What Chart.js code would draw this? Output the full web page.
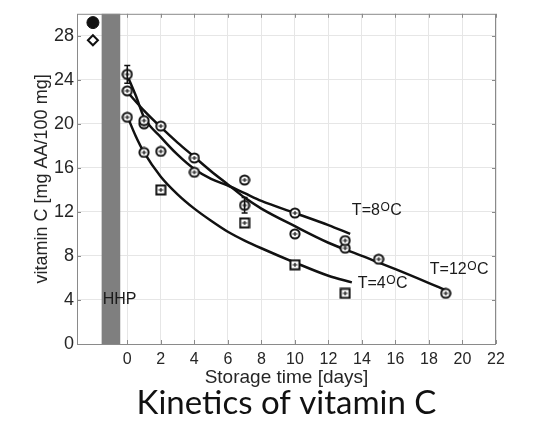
<!DOCTYPE html>
<html lang="en">
<head>
<meta charset="UTF-8">
<title>Kinetics of vitamin C</title>
<script src="https://cdn.jsdelivr.net/npm/chart.js"></script>
<style>
  html, body { margin: 0; padding: 0; background: #fff; }
  #wrap { width: 533px; height: 421px; }
</style>
</head>
<body>
<div id="wrap"><canvas id="vitChart"></canvas></div>
<script>
// measured vitamin C [mg AA/100 mg] vs storage time [days]
const days4 = [0, 1, 2, 7, 10, 13];
const vitC4 = [20.6, 17.4, 14.0, 11.0, 7.2, 4.6];
const days8 = [0, 1, 2, 4, 7, 10, 13];
const vitC8 = [24.5, 20.3, 17.5, 15.6, 14.9, 11.9, 9.4];
const err8 = [0.8, 0, 0, 0, 0, 0, 0];
const days12 = [0, 1, 2, 4, 7, 10, 13, 15, 19];
const vitC12 = [23.0, 20.0, 19.8, 16.9, 12.6, 10.0, 8.7, 7.7, 4.6];
const err12 = [0, 0, 0, 0, 0.7, 0, 0, 0, 0];

// fresh sample before HHP treatment
const daysRaw = [-2.05];
const vitCRaw = [29.2];
const daysRaw2 = [-2.05];
const vitCRaw2 = [27.6];

// fitted curves
const fitDays4 = [0, 0.5, 1, 2, 3, 4, 5, 6, 7, 8, 10, 12, 13.4];
const fit4 = [20.7, 18.9, 17.4, 15.2, 13.6, 12.3, 11.2, 10.2, 9.4, 8.7, 7.4, 6.2, 5.6];
const fitDays8 = [0, 0.5, 1, 2, 3, 4, 5, 6, 7, 8, 10, 12, 13.3];
const fit8 = [24.4, 22.6, 20.6, 18.8, 17.2, 15.9, 15.0, 14.4, 13.7, 13.0, 11.9, 10.8, 10.0];
const fitDays12 = [0, 1, 2, 3, 4, 5, 6, 7, 8, 10, 12, 14, 16, 19];
const fit12 = [22.9, 21.2, 19.7, 18.3, 17.0, 15.7, 14.5, 13.3, 12.3, 10.7, 9.2, 8.0, 6.8, 4.9];

const xTicks = [0, 2, 4, 6, 8, 10, 12, 14, 16, 18, 20, 22];
const yTicks = [0, 4, 8, 12, 16, 20, 24, 28];

const hhpFrom = -1.53;
const hhpTo = -0.42;

// curve labels and where they sit (data units)
const curveLabels = [
  { text: 'T=8', x: 13.4, y: 11.7 },
  { text: 'T=12', x: 18.05, y: 6.4 },
  { text: 'T=4', x: 13.75, y: 5.1 }
];

const pts = (xs, ys) => xs.map((x, i) => ({ x: x, y: ys[i] }));

function makeMarker(square) {
  const c = document.createElement('canvas');
  c.width = 12; c.height = 12;
  const g = c.getContext('2d');
  g.fillStyle = '#fff';
  g.strokeStyle = '#111';
  g.lineWidth = 2;
  g.beginPath();
  if (square) g.rect(1.5, 1.5, 9, 9);
  else g.arc(6, 6, 4.6, 0, Math.PI * 2);
  g.fill();
  g.stroke();
  g.lineWidth = 1.2;
  g.beginPath();
  g.moveTo(3.5, 6); g.lineTo(8.5, 6);
  g.moveTo(6, 4); g.lineTo(6, 8);
  g.stroke();
  return c;
}
const circleMark = makeMarker(false);
const squareMark = makeMarker(true);

const curve = (xs, ys) => ({
  data: pts(xs, ys),
  showLine: true,
  borderColor: '#111',
  borderWidth: 2.5,
  pointRadius: 0,
  cubicInterpolationMode: 'monotone',
  order: 2
});

const marks = (xs, ys, style, errs) => ({
  data: pts(xs, ys),
  pointStyle: style,
  pointRadius: 6,
  errors: errs,
  order: 1
});

const decor = {
  id: 'decor',
  beforeDatasetsDraw(chart) {
    const { ctx, chartArea: a, scales: { x } } = chart;
    ctx.save();
    ctx.fillStyle = '#7f7f7f';
    const x0 = x.getPixelForValue(hhpFrom), x1 = x.getPixelForValue(hhpTo);
    ctx.fillRect(x0, a.top, x1 - x0, a.bottom - a.top);
    ctx.restore();
  },
  afterDatasetsDraw(chart) {
    const { ctx, chartArea: a, scales: { x, y } } = chart;
    ctx.save();
    // frame and inward ticks
    ctx.strokeStyle = '#8a8a8a';
    ctx.lineWidth = 1;
    ctx.strokeRect(a.left + 0.5, a.top + 0.5, a.right - a.left - 1, a.bottom - a.top);
    ctx.beginPath();
    xTicks.forEach(v => {
      const px = Math.round(x.getPixelForValue(v)) + 0.5;
      ctx.moveTo(px, a.top); ctx.lineTo(px, a.top + 4);
      ctx.moveTo(px, a.bottom); ctx.lineTo(px, a.bottom - 4);
    });
    yTicks.forEach(v => {
      const py = Math.round(y.getPixelForValue(v)) + 0.5;
      ctx.moveTo(a.left, py); ctx.lineTo(a.left + 4, py);
      ctx.moveTo(a.right, py); ctx.lineTo(a.right - 4, py);
    });
    ctx.stroke();

    // error bars
    ctx.strokeStyle = '#111';
    ctx.lineWidth = 1.5;
    chart.data.datasets.forEach(ds => {
      if (!ds.errors) return;
      ds.data.forEach((p, i) => {
        const e = ds.errors[i];
        if (!e) return;
        const px = x.getPixelForValue(p.x);
        const top = y.getPixelForValue(p.y + e), bot = y.getPixelForValue(p.y - e);
        ctx.beginPath();
        ctx.moveTo(px, top); ctx.lineTo(px, bot);
        ctx.moveTo(px - 3, top); ctx.lineTo(px + 3, top);
        ctx.moveTo(px - 3, bot); ctx.lineTo(px + 3, bot);
        ctx.stroke();
      });
    });

    // texts
    ctx.fillStyle = '#1a1a1a';
    ctx.textBaseline = 'alphabetic';
    ctx.textAlign = 'left';
    ctx.font = '16px "Liberation Sans", Arial, sans-serif';
    ctx.fillText('HHP', x.getPixelForValue(-1.47), y.getPixelForValue(3.65));
    curveLabels.forEach(l => {
      let px = x.getPixelForValue(l.x);
      const py = y.getPixelForValue(l.y);
      ctx.font = '16px "Liberation Sans", Arial, sans-serif';
      ctx.fillText(l.text, px, py);
      px += ctx.measureText(l.text).width + 0.5;
      ctx.font = '12px "Liberation Sans", Arial, sans-serif';
      ctx.fillText('O', px, py - 4);
      px += ctx.measureText('O').width + 0.5;
      ctx.font = '16px "Liberation Sans", Arial, sans-serif';
      ctx.fillText('C', px, py);
    });
    ctx.restore();
  }
};

const ctx = document.getElementById('vitChart').getContext('2d');
const chart = new Chart(ctx, {
  type: 'scatter',
  data: {
    datasets: [
      curve(fitDays4, fit4),
      curve(fitDays8, fit8),
      curve(fitDays12, fit12),
      marks(days4, vitC4, [circleMark, circleMark, squareMark, squareMark, squareMark, squareMark], null),
      marks(days8, vitC8, circleMark, err8),
      marks(days12, vitC12, circleMark, err12),
      { data: pts(daysRaw, vitCRaw), pointStyle: 'circle', pointRadius: 6, backgroundColor: '#111', borderColor: '#111', order: 1 },
      { data: pts(daysRaw2, vitCRaw2), pointStyle: 'rectRot', pointRadius: 5, backgroundColor: '#fff', borderColor: '#111', borderWidth: 2, order: 1 }
    ]
  },
  options: {
    responsive: true,
    maintainAspectRatio: false,
    animation: false,
    layout: { padding: { top: 7, right: 37, bottom: 0, left: 0 } },
    plugins: {
      legend: { display: false },
      tooltip: { enabled: false },
      title: {
        display: true,
        position: 'bottom',
        fullSize: false,
        text: 'Kinetics of vitamin C',
        color: '#111',
        font: { family: 'Lato', size: 33, weight: 'normal', lineHeight: 0.8 },
        padding: { top: 0, bottom: 4.6 }
      }
    },
    scales: {
      x: {
        type: 'linear',
        min: -3,
        max: 22,
        afterBuildTicks: s => { s.ticks = xTicks.map(v => ({ value: v })); },
        afterFit: s => { s.height = 46; },
        grid: { color: '#e6e6e6', drawTicks: false },
        border: { display: false },
        ticks: {
          padding: 6,
          color: '#262626',
          font: { family: 'Liberation Sans', size: 16 }
        },
        title: {
          display: true,
          text: 'Storage time [days]',
          color: '#262626',
          font: { family: 'Liberation Sans', size: 19 },
          padding: { top: 0, bottom: 0.6 }
        }
      },
      y: {
        type: 'linear',
        min: 0,
        max: 30,
        afterBuildTicks: s => { s.ticks = yTicks.map(v => ({ value: v })); },
        afterFit: s => { s.width = 77; },
        grid: { color: '#e6e6e6', drawTicks: false },
        border: { display: false },
        ticks: {
          padding: 3,
          color: '#262626',
          font: { family: 'Liberation Sans', size: 18 }
        },
        title: {
          display: true,
          text: 'vitamin C [mg AA/100 mg]',
          color: '#262626',
          font: { family: 'Liberation Sans', size: 18 },
          padding: { top: 31, bottom: 0 }
        }
      }
    }
  },
  plugins: [decor]
});
</script>
</body>
</html>
